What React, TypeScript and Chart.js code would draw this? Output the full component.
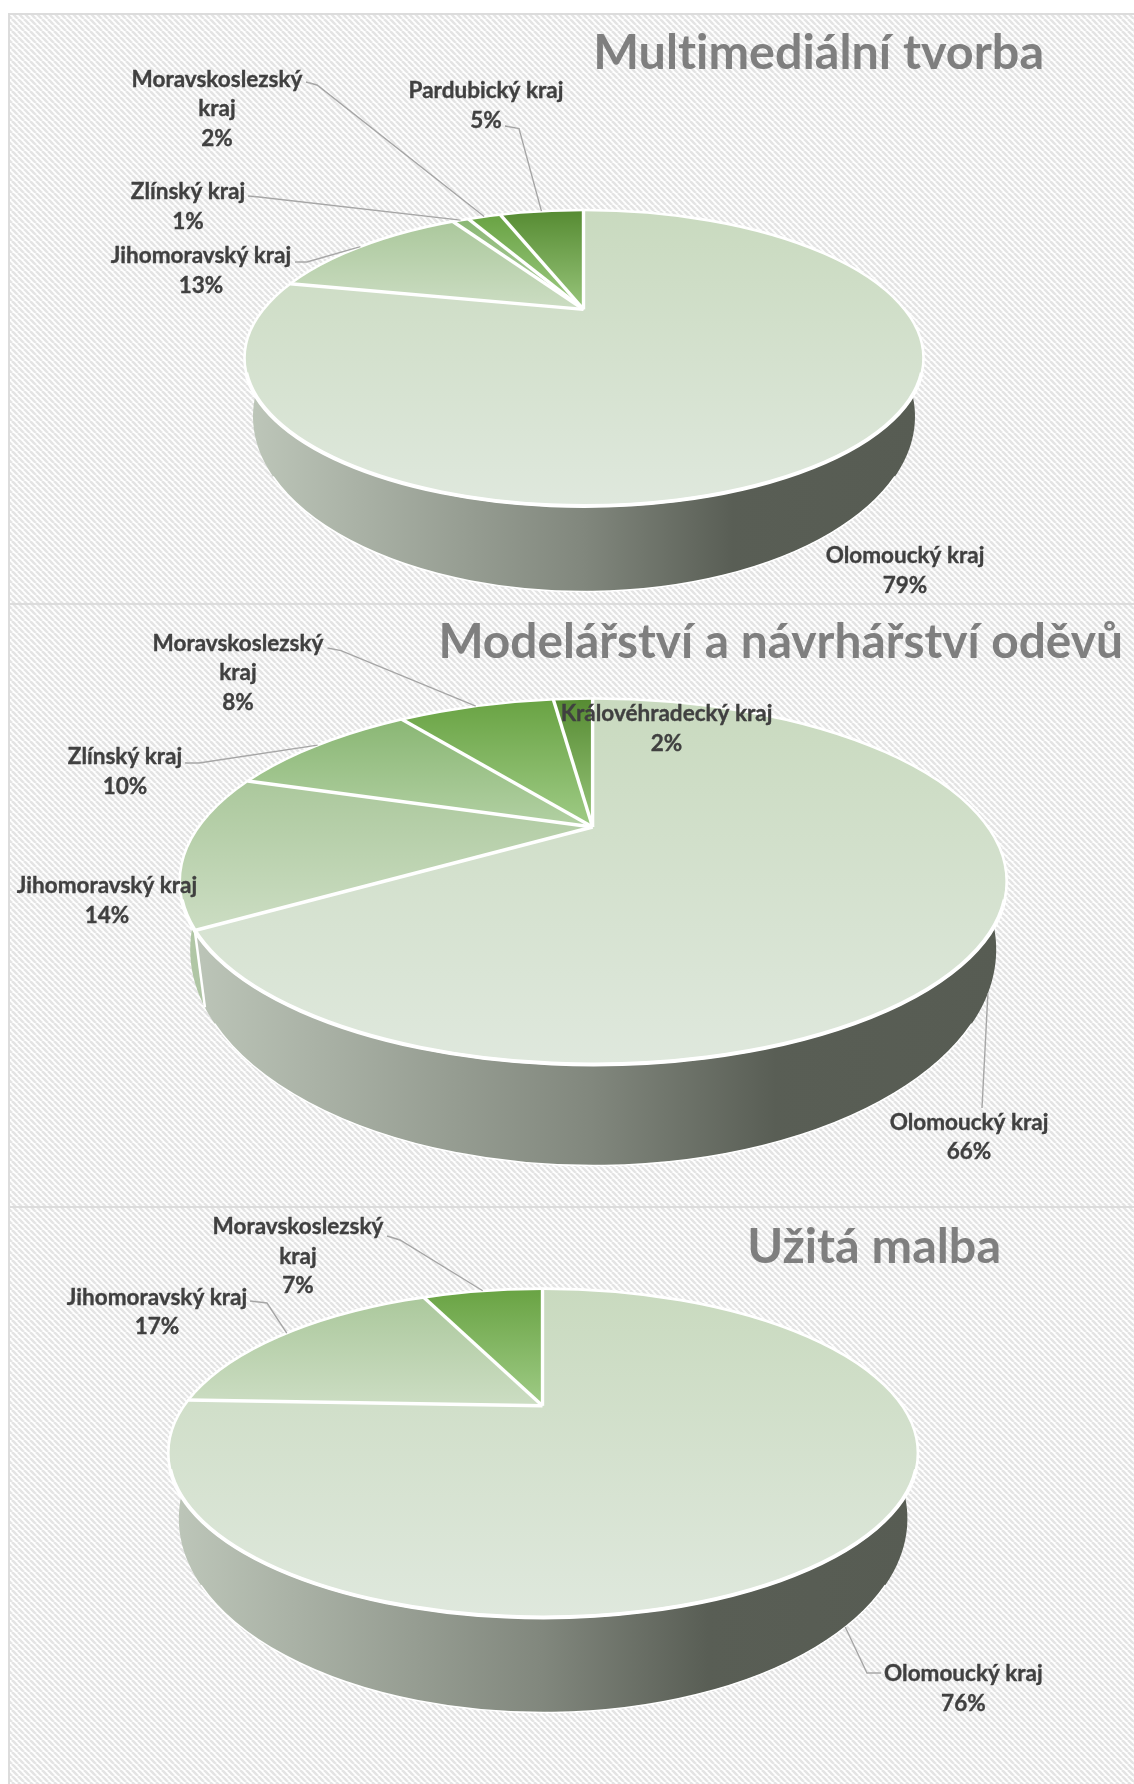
import React, { useEffect, useRef } from "react";
import { Chart, registerables } from "chart.js";

Chart.register(...registerables);

// ---- data ----
const multimediaTitle = "Multimediální tvorba";
const multimediaRegions = ["Olomoucký kraj", "Jihomoravský kraj", "Zlínský kraj", "Moravskoslezský kraj", "Pardubický kraj"];
const multimediaValues = [78.7, 13.3, 1, 2, 5];

const fashionTitle = "Modelářství a návrhářství oděvů";
const fashionRegions = ["Olomoucký kraj", "Jihomoravský kraj", "Zlínský kraj", "Moravskoslezský kraj", "Královéhradecký kraj"];
const fashionValues = [66, 14, 10, 8, 2];

const paintingTitle = "Užitá malba";
const paintingRegions = ["Olomoucký kraj", "Jihomoravský kraj", "Moravskoslezský kraj"];
const paintingValues = [75.6, 17.4, 7];

// ---- styles ----
const OLO: [string, string] = ["#c9dabf", "#dfe8dd"];
const JIH: [string, string] = ["#abc89c", "#ccddc3"];
const ZLI: [string, string] = ["#8ab774", "#b2d0a3"];
const MOR: [string, string] = ["#69a343", "#9fcb86"];
const DRK: [string, string] = ["#568b32", "#98c57b"];
const SLIVER = "#b0c6a5";
const LABEL_FONT = 22.5;
const LINE_H = 29.5;
const FONT_FAMILY = "Lato, 'Open Sans', sans-serif";
const W = 1134;
const LEFT = 9;

type Label = { x: number; y: number; wrap?: boolean; leader?: number[][]; side?: boolean };
type Geo = { cx: number; cy: number; rx: number; ry: number };
type Panel = {
  title: string; titleRight: number; titleY: number; titleSize: number;
  regions: string[]; values: number[];
  top: number; bottom: number;
  apex: { x: number; y: number }; k: number;
  upper: Geo; lower: Geo;
  fills: [string, string][];
  labels: Label[];
};

const panels: Panel[] = [
  {
    title: multimediaTitle, titleRight: 1044, titleY: 53, titleSize: 48.5,
    regions: multimediaRegions, values: multimediaValues,
    top: 13, bottom: 604,
    apex: { x: 583.5, y: 309.4 }, k: 0.37,
    upper: { cx: 584, cy: 358, rx: 339.5, ry: 148 },
    lower: { cx: 584, cy: 416.5, rx: 331, ry: 175 },
    fills: [OLO, JIH, ZLI, MOR, DRK],
    labels: [
      { x: 905, y: 556 },
      { x: 201, y: 256, leader: [[295, 262], [307, 262]] },
      { x: 188, y: 192, leader: [[248, 196], [259, 197]] },
      { x: 217, y: 79.5, wrap: true, leader: [[306, 82], [317, 85]] },
      { x: 486, y: 91, leader: [[505, 126], [519, 128.5]] },
    ],
  },
  {
    title: fashionTitle, titleRight: 1123, titleY: 643, titleSize: 47.8,
    regions: fashionRegions, values: fashionValues,
    top: 603, bottom: 1207,
    apex: { x: 592.6, y: 827 }, k: 0.41,
    upper: { cx: 593.2, cy: 881.5, rx: 413.5, ry: 183 },
    lower: { cx: 593.2, cy: 949.6, rx: 403, ry: 216 },
    fills: [OLO, JIH, ZLI, MOR, DRK],
    labels: [
      { x: 969, y: 1122.5, side: true, leader: [[982, 1108]] },
      { x: 107, y: 886 },
      { x: 125, y: 757, leader: [[185, 763], [199, 763]] },
      { x: 238, y: 643.6, wrap: true, leader: [[327.5, 648], [341, 650.6]] },
      { x: 666.5, y: 714 },
    ],
  },
  {
    title: paintingTitle, titleRight: 1001, titleY: 1247, titleSize: 48.5,
    regions: paintingRegions, values: paintingValues,
    top: 1206, bottom: 1784,
    apex: { x: 542.5, y: 1405.8 }, k: 0.43,
    upper: { cx: 543.1, cy: 1453, rx: 374.8, ry: 164.4 },
    lower: { cx: 543.1, cy: 1518.6, rx: 364.3, ry: 194 },
    fills: [OLO, JIH, MOR],
    labels: [
      { x: 963.4, y: 1674, side: true, leader: [[881, 1673], [867, 1673]] },
      { x: 157, y: 1297.6, leader: [[250, 1301], [267, 1303]] },
      { x: 298, y: 1227, wrap: true, leader: [[387, 1236], [400, 1240]] },
    ],
  },
];

// ---- geometry helpers ----
function rimPoint(p: Panel, angle: number) {
  const dx = Math.cos(angle), dy = Math.sin(angle) * p.k;
  const { cx, cy, rx, ry } = p.upper;
  const ox = p.apex.x - cx, oy = p.apex.y - cy;
  const a = (dx * dx) / (rx * rx) + (dy * dy) / (ry * ry);
  const b = 2 * ((ox * dx) / (rx * rx) + (oy * dy) / (ry * ry));
  const c = (ox * ox) / (rx * rx) + (oy * oy) / (ry * ry) - 1;
  const t = (-b + Math.sqrt(b * b - 4 * a * c)) / (2 * a);
  return { x: p.apex.x + t * dx, y: p.apex.y + t * dy };
}
function basePoint(p: Panel, angle: number) {
  const q = rimPoint(p, angle);
  return {
    x: p.lower.cx + ((q.x - p.upper.cx) * p.lower.rx) / p.upper.rx,
    y: p.lower.cy + ((q.y - p.upper.cy) * p.lower.ry) / p.upper.ry,
  };
}
function sliceAngles(values: number[], i: number) {
  const sum = values.reduce((s, v) => s + v, 0);
  const before = values.slice(0, i).reduce((s, v) => s + v, 0);
  return [-Math.PI / 2 + (before / sum) * 2 * Math.PI, -Math.PI / 2 + ((before + values[i]) / sum) * 2 * Math.PI];
}
const REACH = 1400;

function hatch(ctx: CanvasRenderingContext2D) {
  const n = 6;
  const tile = document.createElement("canvas");
  tile.width = n; tile.height = n;
  const t = tile.getContext("2d")!;
  t.fillStyle = "#ffffff";
  t.fillRect(0, 0, n, n);
  t.strokeStyle = "#e4e4e4";
  t.lineWidth = 2.6;
  for (const o of [-n, 0, n]) {
    t.beginPath();
    t.moveTo(o, 0);
    t.lineTo(o + n, n);
    t.stroke();
  }
  return ctx.createPattern(tile, "repeat")!;
}

function ellipsePath(ctx: CanvasRenderingContext2D, g: Geo) {
  ctx.beginPath();
  ctx.ellipse(g.cx, g.cy, g.rx, g.ry, 0, 0, Math.PI * 2);
}

function piePlugin(p: Panel) {
  return {
    id: "pie3d",
    beforeDraw(chart: any) {
      const ctx: CanvasRenderingContext2D = chart.ctx;
      (ctx as any).letterSpacing = "0.01px"; // keeps "ti" from turning into a ligature
      ctx.save();
      ctx.fillStyle = hatch(ctx);
      ctx.fillRect(LEFT, 0, W - LEFT, p.bottom - p.top);
      ctx.strokeStyle = "#dcdcdc";
      ctx.lineWidth = 2;
      ctx.beginPath();
      ctx.moveTo(LEFT, 1); ctx.lineTo(W, 1);
      ctx.moveTo(LEFT, 0); ctx.lineTo(LEFT, p.bottom - p.top);
      ctx.stroke();
      ctx.restore();
    },
    beforeDatasetsDraw(chart: any) {
      const ctx: CanvasRenderingContext2D = chart.ctx;
      const arcs = chart.getDatasetMeta(0).data;
      // side wall
      ctx.save();
      ctx.translate(0, -p.top);
      for (let i = arcs.length - 1; i >= 0; i--) {
        const { startAngle, endAngle } = arcs[i];
        const top: { x: number; y: number }[] = [];
        const base: { x: number; y: number }[] = [];
        const steps = 160;
        for (let s = 0; s <= steps; s++) {
          const a = startAngle + ((endAngle - startAngle) * s) / steps;
          top.push(rimPoint(p, a));
          base.push(basePoint(p, a));
        }
        ctx.beginPath();
        top.forEach((q, n) => (n ? ctx.lineTo(q.x, q.y) : ctx.moveTo(q.x, q.y)));
        base.reverse().forEach((q) => ctx.lineTo(q.x, q.y));
        ctx.closePath();
        if (i === 0) {
          const g = ctx.createLinearGradient(p.upper.cx - p.upper.rx, 0, p.upper.cx + p.upper.rx, 0);
          g.addColorStop(0, "#bec7ba");
          g.addColorStop(0.5, "#81877d");
          g.addColorStop(0.72, "#595e55");
          g.addColorStop(1, "#575c53");
          ctx.fillStyle = g;
        } else {
          ctx.fillStyle = SLIVER;
        }
        ctx.fill();
      }
      // white seams on the wall and under it
      ctx.strokeStyle = "#ffffff";
      ctx.lineWidth = 2.5;
      for (const arc of arcs) {
        const q = rimPoint(p, arc.startAngle);
        if (q.y > p.upper.cy) {
          const b = basePoint(p, arc.startAngle);
          ctx.beginPath();
          ctx.moveTo(q.x, q.y);
          ctx.lineTo(b.x, b.y);
          ctx.stroke();
        }
      }
      ctx.lineWidth = 1.5;
      ctx.beginPath();
      ctx.ellipse(p.lower.cx, p.lower.cy, p.lower.rx, p.lower.ry, 0, 0.35, Math.PI - 0.35);
      ctx.stroke();
      ctx.restore();

      // squash the library's arcs on to the disc, with the apex off centre
      const r = arcs[0].outerRadius;
      const S = REACH / r;
      ctx.save();
      ctx.translate(0, -p.top);
      ellipsePath(ctx, p.upper);
      ctx.clip();
      ctx.translate(p.apex.x, p.apex.y);
      ctx.scale(S, S * p.k);
      ctx.translate(-arcs[0].x, -arcs[0].y);
    },
    afterDatasetsDraw(chart: any) {
      const ctx: CanvasRenderingContext2D = chart.ctx;
      ctx.restore();
      const arcs = chart.getDatasetMeta(0).data;
      ctx.save();
      ctx.translate(0, -p.top);
      ctx.strokeStyle = "#ffffff";
      ctx.lineCap = "butt";
      ctx.lineWidth = 3.4;
      for (const arc of arcs) {
        const q = rimPoint(p, arc.startAngle);
        ctx.beginPath();
        ctx.moveTo(p.apex.x, p.apex.y);
        ctx.lineTo(q.x, q.y);
        ctx.stroke();
      }
      ctx.lineWidth = 2.6;
      ellipsePath(ctx, p.upper);
      ctx.stroke();
      ctx.lineWidth = 4;
      ctx.beginPath();
      ctx.ellipse(p.upper.cx, p.upper.cy, p.upper.rx, p.upper.ry, 0, 0.1, Math.PI - 0.1);
      ctx.stroke();
      ctx.restore();
    },
    afterDraw(chart: any) {
      const ctx: CanvasRenderingContext2D = chart.ctx;
      const arcs = chart.getDatasetMeta(0).data;
      ctx.save();
      ctx.translate(0, -p.top);
      p.labels.forEach((l, i) => {
        if (l.leader) {
          const mid = (arcs[i].startAngle + arcs[i].endAngle) / 2;
          const end = l.side ? basePoint(p, mid) : rimPoint(p, mid);
          ctx.strokeStyle = "#a6a6a6";
          ctx.lineWidth = 1.4;
          ctx.beginPath();
          l.leader.forEach((q, n) => (n ? ctx.lineTo(q[0], q[1]) : ctx.moveTo(q[0], q[1])));
          ctx.lineTo(end.x, end.y);
          ctx.stroke();
        }
      });
      ctx.fillStyle = "#404040";
      ctx.strokeStyle = "#404040";
      ctx.lineWidth = 0.35;
      ctx.font = `bold ${LABEL_FONT}px ${FONT_FAMILY}`;
      ctx.textAlign = "center";
      ctx.textBaseline = "middle";
      p.labels.forEach((l, i) => {
        const name = p.regions[i];
        const lines = l.wrap ? name.split(" ") : [name];
        lines.push(`${Math.round(p.values[i])}%`);
        lines.forEach((t, n) => {
          ctx.fillText(t, l.x, l.y + n * LINE_H);
          ctx.strokeText(t, l.x, l.y + n * LINE_H);
        });
      });
      ctx.restore();
    },
  };
}

function Pie({ panel }: { panel: Panel }) {
  const ref = useRef<HTMLCanvasElement>(null);
  useEffect(() => {
    const lineH = panel.titleSize * 1.2;
    const chart = new Chart(ref.current!, {
      type: "pie",
      data: {
        labels: panel.regions,
        datasets: [
          {
            data: panel.values,
            borderWidth: 0,
            hoverOffset: 0,
            clip: false as any,
            backgroundColor: (c: any) => {
              const i = c.dataIndex;
              const ca = c.chart.chartArea;
              const pair = panel.fills[i] || panel.fills[0];
              if (!ca || i === undefined) return pair[0];
              const r = Math.min(ca.right - ca.left, ca.bottom - ca.top) / 2;
              const cy = (ca.top + ca.bottom) / 2;
              const S = REACH / r;
              const [a0, a1] = sliceAngles(panel.values, i);
              let y0 = panel.apex.y, y1 = panel.apex.y;
              for (let s = 0; s <= 100; s++) {
                const y = rimPoint(panel, a0 + ((a1 - a0) * s) / 100).y;
                y0 = Math.min(y0, y);
                y1 = Math.max(y1, y);
              }
              const toLocal = (y: number) => cy + (y - panel.apex.y) / (S * panel.k);
              const g = c.chart.ctx.createLinearGradient(0, toLocal(y0), 0, toLocal(y1));
              g.addColorStop(0, pair[0]);
              g.addColorStop(1, pair[1]);
              return g;
            },
          },
        ],
      },
      options: {
        animation: false,
        responsive: false,
        devicePixelRatio: 1,
        layout: {
          padding: {
            top: panel.titleY - panel.top - lineH / 2,
            right: W - panel.titleRight,
            left: 0,
            bottom: 0,
          },
        },
        plugins: {
          legend: { display: false },
          tooltip: { enabled: false },
          title: {
            display: true,
            text: panel.title,
            align: "end",
            color: "#7f7f7f",
            padding: 0,
            font: { family: FONT_FAMILY, size: panel.titleSize, weight: "bold", lineHeight: 1.2 },
          },
        },
      },
      plugins: [piePlugin(panel) as any],
    } as any);
    return () => chart.destroy();
  }, [panel]);
  return (
    <canvas
      ref={ref}
      width={W}
      height={panel.bottom - panel.top}
      style={{ position: "absolute", left: 0, top: panel.top, width: W, height: panel.bottom - panel.top, display: "block" }}
    />
  );
}

export default function App() {
  useEffect(() => {
    document.body.style.margin = "0";
    document.body.style.background = "#ffffff";
  }, []);
  return (
    <div style={{ position: "relative", width: W, height: 1784, overflow: "hidden" }}>
      {panels.map((p) => (
        <Pie key={p.title} panel={p} />
      ))}
    </div>
  );
}
